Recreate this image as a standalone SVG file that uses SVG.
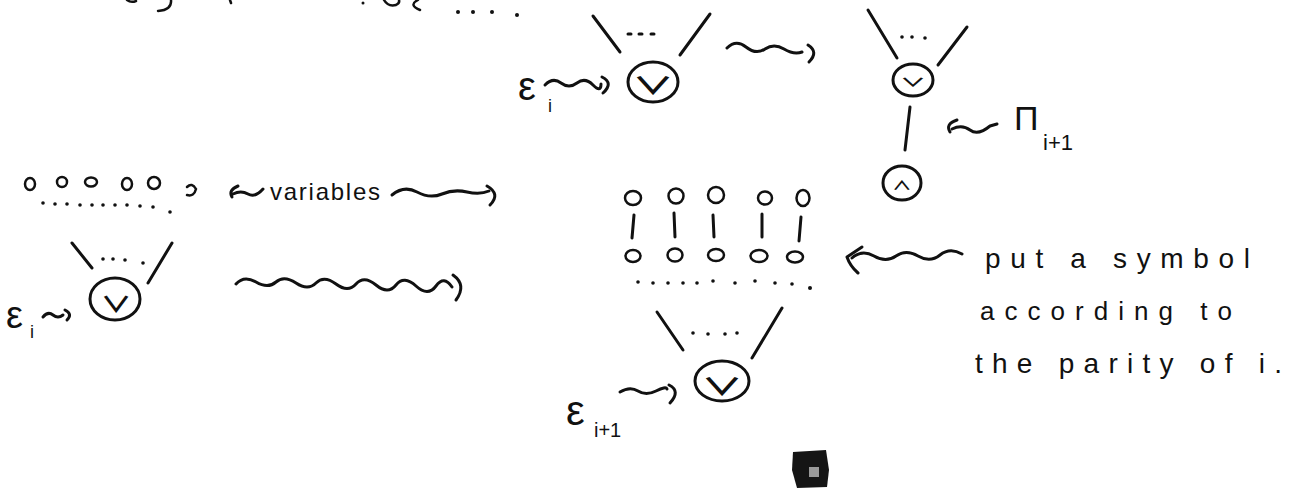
<svg xmlns="http://www.w3.org/2000/svg" width="1295" height="492" viewBox="0 0 1295 492">
<style>
.s{fill:none;stroke:#111;stroke-width:3;stroke-linecap:round;stroke-linejoin:round}
.t{fill:none;stroke:#111;stroke-width:2.5;stroke-linecap:round}
.d{fill:#111}
.h{font-family:"Liberation Sans",Arial,sans-serif;fill:#111}
.g{font-family:"Noto Sans CJK SC","DejaVu Sans",sans-serif;font-weight:700;fill:#111;text-anchor:middle}
</style>
<rect width="1295" height="492" fill="#fff"/>

<g id="fragments-top">
<path class="t" d="M171,0 Q172,10 158,11"/>
<path class="t" d="M127,0 Q131,3 136,1"/>
<path class="t" d="M230,0 L231,3"/>
<circle class="d" cx="363" cy="3" r="1.5"/>
<path class="t" d="M384,0 Q388,7 396,5 Q400,3 399,0"/>
<path class="t" d="M418,0 Q408,5 420,10"/>
<circle class="d" cx="458" cy="12" r="2"/>
<circle class="d" cx="473" cy="12" r="2"/>
<circle class="d" cx="492" cy="12" r="2"/>
<circle class="d" cx="517" cy="15" r="2"/>
</g>

<g id="or-top">
<path class="s" d="M593,16 L620,52"/>
<path class="s" d="M710,14 L680,55"/>
<path class="s" d="M628,34 h3 M639,34 h3 M651,34 h3"/>
<ellipse class="s" cx="653" cy="82" rx="25" ry="20"/>
<text class="g" font-size="32" transform="translate(653,94) scale(1.3,0.75)">∨</text>
<text class="h" x="518" y="100" font-size="40">ε</text>
<text class="h" x="548" y="112" font-size="18">i</text>
</g>

<g id="or-right">
<path class="s" d="M868,10 L897,58"/>
<path class="s" d="M967,27 L938,65"/>
<circle class="d" cx="902" cy="37" r="1.8"/>
<circle class="d" cx="912" cy="37" r="1.8"/>
<circle class="d" cx="925" cy="38" r="1.8"/>
<ellipse class="s" cx="913" cy="80" rx="20" ry="16"/>
<text class="g" font-size="20" transform="translate(913,87) scale(1.3,0.6)">∨</text>
<path class="s" d="M910,107 L905,150"/>
<text class="h" x="1014" y="130" font-size="34">Π</text>
<text class="h" x="1043" y="150" font-size="22">i+1</text>
</g>

<g id="and-node">
<ellipse class="s" cx="902" cy="183" rx="19" ry="17"/>
<text class="g" font-size="18" transform="translate(902,190) scale(1.1,0.7)">∧</text>
</g>

<g id="variables">
<ellipse class="t" cx="30" cy="184" rx="5" ry="6"/>
<ellipse class="t" cx="62" cy="182" rx="5" ry="5"/>
<ellipse class="t" cx="91" cy="182" rx="6" ry="4.5"/>
<ellipse class="t" cx="127" cy="184" rx="5" ry="6"/>
<ellipse class="t" cx="154" cy="183" rx="6" ry="6"/>
<path class="t" d="M187,187 Q192,182 196,189 Q194,197 187,195"/>
<g class="d">
<circle cx="43" cy="203" r="1.8"/><circle cx="55" cy="204" r="1.8"/><circle cx="67" cy="204" r="1.8"/>
<circle cx="80" cy="205" r="1.8"/><circle cx="92" cy="205" r="1.8"/><circle cx="103" cy="205" r="1.8"/>
<circle cx="115" cy="205" r="1.8"/><circle cx="127" cy="205" r="1.8"/><circle cx="140" cy="206" r="1.8"/>
<circle cx="153" cy="207" r="1.8"/><circle cx="170" cy="212" r="1.8"/>
</g>
<text class="h" x="270" y="200" font-size="24" textLength="110" lengthAdjust="spacing">variables</text>
</g>

<g id="or-left">
<path class="s" d="M72,243 L92,268"/>
<path class="s" d="M172,243 L148,283"/>
<circle class="d" cx="103" cy="259" r="1.8"/>
<circle class="d" cx="113" cy="259" r="1.8"/>
<circle class="d" cx="125" cy="260" r="1.8"/>
<circle class="d" cx="143" cy="263" r="1.8"/>
<ellipse class="s" cx="115" cy="299" rx="25" ry="21"/>
<text class="g" font-size="26" transform="translate(116,312) scale(1.2,0.85)">∨</text>
<text class="h" x="6" y="328" font-size="38">ε</text>
<text class="h" x="30" y="338" font-size="18">i</text>
</g>

<g id="matrix">
<ellipse class="t" cx="633" cy="198" rx="8" ry="7"/>
<ellipse class="t" cx="676" cy="196" rx="7.5" ry="7.5"/>
<ellipse class="t" cx="716" cy="195" rx="8" ry="8"/>
<ellipse class="t" cx="765" cy="198" rx="7" ry="6.5"/>
<ellipse class="t" cx="803" cy="198" rx="6.5" ry="8"/>
<path class="s" d="M634,215 L632,238 M674,213 L675,237 M713,215 L714,237 M762,214 L762,237 M801,217 L799,241"/>
<ellipse class="t" cx="633" cy="256" rx="7.5" ry="6"/>
<ellipse class="t" cx="675" cy="255" rx="7.5" ry="6.5"/>
<ellipse class="t" cx="716" cy="255" rx="8" ry="6"/>
<ellipse class="t" cx="759" cy="256" rx="8.5" ry="6"/>
<ellipse class="t" cx="795" cy="257" rx="8" ry="5.5"/>
<g class="d">
<circle cx="638" cy="282" r="1.8"/><circle cx="653" cy="283" r="1.8"/><circle cx="668" cy="283" r="1.8"/>
<circle cx="683" cy="283" r="1.8"/><circle cx="697" cy="283" r="1.8"/><circle cx="713" cy="281" r="1.8"/>
<circle cx="735" cy="283" r="1.8"/><circle cx="755" cy="281" r="1.8"/><circle cx="775" cy="283" r="1.8"/>
<circle cx="792" cy="284" r="1.8"/><circle cx="810" cy="288" r="2"/>
</g>
</g>

<g id="note">
<text class="h" x="985" y="268" font-size="28" textLength="265" lengthAdjust="spacing">put a symbol</text>
<text class="h" x="980" y="320" font-size="26" textLength="252" lengthAdjust="spacing">according to</text>
<text class="h" x="975" y="373" font-size="28" textLength="307" lengthAdjust="spacing">the parity of i.</text>
</g>

<g id="or-bottom">
<path class="s" d="M657,312 L683,350"/>
<path class="s" d="M782,308 L752,358"/>
<circle class="d" cx="693" cy="333" r="1.8"/>
<circle class="d" cx="708" cy="334" r="1.8"/>
<circle class="d" cx="725" cy="334" r="1.8"/>
<circle class="d" cx="737" cy="333" r="1.8"/>
<ellipse class="s" cx="722" cy="381" rx="27" ry="20"/>
<text class="g" font-size="32" transform="translate(722,395) scale(1.3,0.75)">∨</text>
<text class="h" x="566" y="425" font-size="42">ε</text>
<text class="h" x="594" y="437" font-size="20">i+1</text>
</g>

<g id="stamp">
<path d="M793,452 L826,450 L829,470 L827,487 L797,488 L792,470 Z" fill="#151515"/>
<rect x="809" y="467" width="10" height="10" fill="#9a9a9a"/>
</g>

<g id="connectors">
<path class="s" d="M545,85 q8,-8 16,-2 t16,0 t16,2 t8,-1"/>
<path class="s" d="M602,77 q12,6 1,16"/>
<path class="s" d="M727,48 q9,-9 19,-1 t19,2 t19,0 t18,3"/>
<path class="s" d="M808,45 q11,7 1,17"/>
<path class="s" d="M957,120 q-12,4 -7,12"/>
<path class="s" d="M952,129 Q962,124 970,130 T990,126 L997,124"/>
<path class="s" d="M238,186 Q228,190 232,197"/>
<path class="s" d="M233,194 q8,-4 15,0 t15,-5"/>
<path class="s" d="M392,195 q12,-10 25,-3 t25,2 t25,-2 t22,-1"/>
<path class="s" d="M487,186 q14,8 3,19"/>
<path class="s" d="M43,317 q5,-6 10,-2 t10,0"/>
<path class="s" d="M65,310 q8,4 2,10"/>
<path class="s" d="M236,284 q8,-9 20,-2 t20,0 t20,1 t20,0 t20,1 t20,0 t20,1 t20,0 t20,1 t20,0 t16,1"/>
<path class="s" d="M453,275 q14,10 3,25"/>
<path class="s" d="M620,392 q10,-6 18,-1 t18,0 t11,-2"/>
<path class="s" d="M669,385 q12,6 1,18"/>
<path class="s" d="M862,247 L847,257 Q850,266 858,273"/>
<path class="s" d="M852,258 q10,-9 22,-2 t22,0 t22,0 t22,-1 t22,-1"/>
</g>
</svg>
